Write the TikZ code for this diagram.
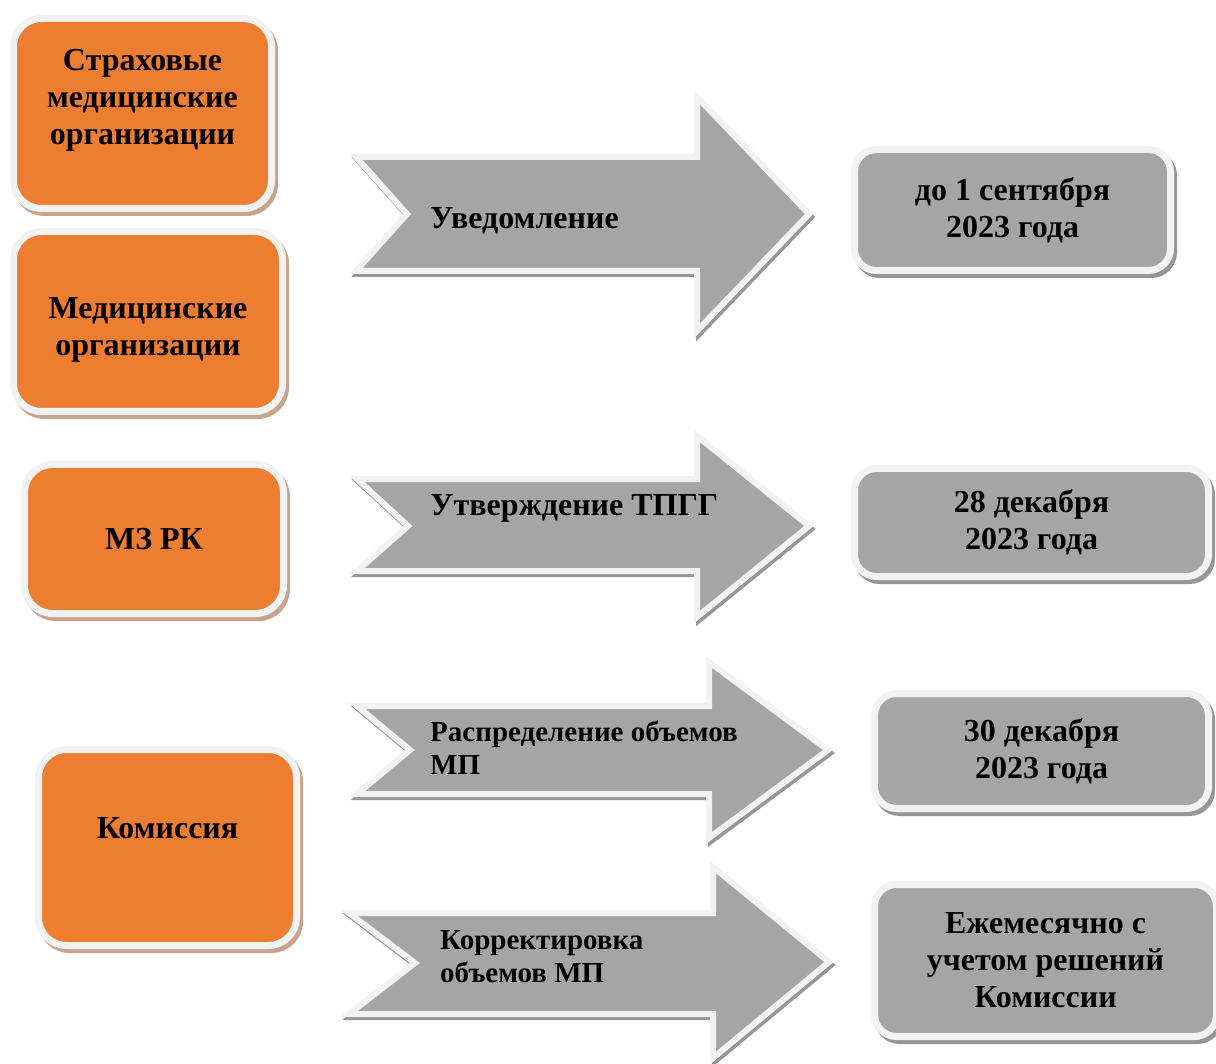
\documentclass[tikz,border=0pt]{standalone}
\usepackage{fontspec}
\setmainfont{Liberation Serif}
\usetikzlibrary{shadows}

\definecolor{boxorange}{HTML}{ED7D31}
\definecolor{boxgray}{HTML}{A5A5A5}
\definecolor{rimwhite}{HTML}{F2F2F2}
\definecolor{shadowtan}{RGB}{200,164,140}
\definecolor{shadowgray}{RGB}{150,150,150}

\tikzset{
  rim/.style={draw=rimwhite, line width=7pt},
  bigtext/.style={font=\bfseries\fontsize{32}{37}\selectfont},
  smalltext/.style={font=\bfseries\fontsize{29}{33}\selectfont},
  orangebox/.style={rim, fill=boxorange, rounded corners=28pt, align=center,
    inner sep=0pt, bigtext,
    general shadow={fill=shadowtan, draw=shadowtan, line width=7pt,
      shadow xshift=3pt, shadow yshift=-4pt}},
  datebox/.style={rim, fill=boxgray, rounded corners=22pt, align=center,
    inner sep=0pt, bigtext,
    general shadow={fill=shadowgray, draw=shadowgray, line width=7pt,
      shadow xshift=3pt, shadow yshift=-4pt}},
  blockarrow/.style={rim, line width=6pt, fill=boxgray, line join=miter,
    general shadow={fill=shadowgray, draw=shadowgray, line width=6pt,
      shadow xshift=2pt, shadow yshift=-3pt}},
  arrowtext/.style={anchor=west, align=left, inner sep=0pt}
}

\begin{document}
\begin{tikzpicture}[x=1pt, y=-1pt]
\useasboundingbox (0,0) rectangle (1216,1064);

% who
\node[orangebox, minimum width=258pt, minimum height=190pt, text depth=34pt] (smo) at (142.5,113.5)
  {Страховые\\медицинские\\организации};
\node[orangebox, minimum width=269pt, minimum height=180pt, text height=74pt] (mo) at (148,321.5)
  {Медицинские\\организации};
\node[orangebox, minimum width=259pt, minimum height=149pt] (mzrk) at (154,539) {МЗ РК};
\node[orangebox, minimum width=258pt, minimum height=196pt, text depth=38pt] (komissiya) at (167.5,847.5)
  {Комиссия};

% what
\draw[blockarrow] (356,157) -- (697,157) -- (697,97) -- (809,214) -- (697,331)
  -- (697,271) -- (356,271) -- (407,214) -- cycle;
\draw[blockarrow] (357,479) -- (697,479) -- (697,436) -- (809,526) -- (697,617)
  -- (697,571) -- (357,571) -- (408,526) -- cycle;
\draw[blockarrow] (357,706) -- (709,706) -- (709,662) -- (828,750) -- (709,838)
  -- (709,794) -- (357,794) -- (410,750) -- cycle;
\draw[blockarrow] (349,913) -- (713,913) -- (713,867) -- (829,962) -- (713,1058)
  -- (713,1014) -- (349,1014) -- (415,963) -- cycle;

\node[arrowtext, bigtext] (notice) at (430,221) {Уведомление};
\node[arrowtext, bigtext] (approval) at (430,508) {Утверждение ТПГГ};
\node[arrowtext, smalltext] (distrib) at (430,748) {Распределение объемов\\МП};
\node[arrowtext, smalltext] (correct) at (440,957) {Корректировка\\объемов МП};

% when
\node[datebox, minimum width=316pt, minimum height=121pt] (sept) at (1012.5,210)
  {до 1 сентября\\2023 года};
\node[datebox, minimum width=354pt, minimum height=108pt] (dec28) at (1031.5,522.5)
  {28 декабря\\2023 года};
\node[datebox, minimum width=334pt, minimum height=115pt] (dec30) at (1041.5,751)
  {30 декабря\\2023 года};
\node[datebox, minimum width=342pt, minimum height=152pt] (monthly) at (1045.5,960.5)
  {Ежемесячно с\\учетом решений\\Комиссии};
\end{tikzpicture}
\end{document}
